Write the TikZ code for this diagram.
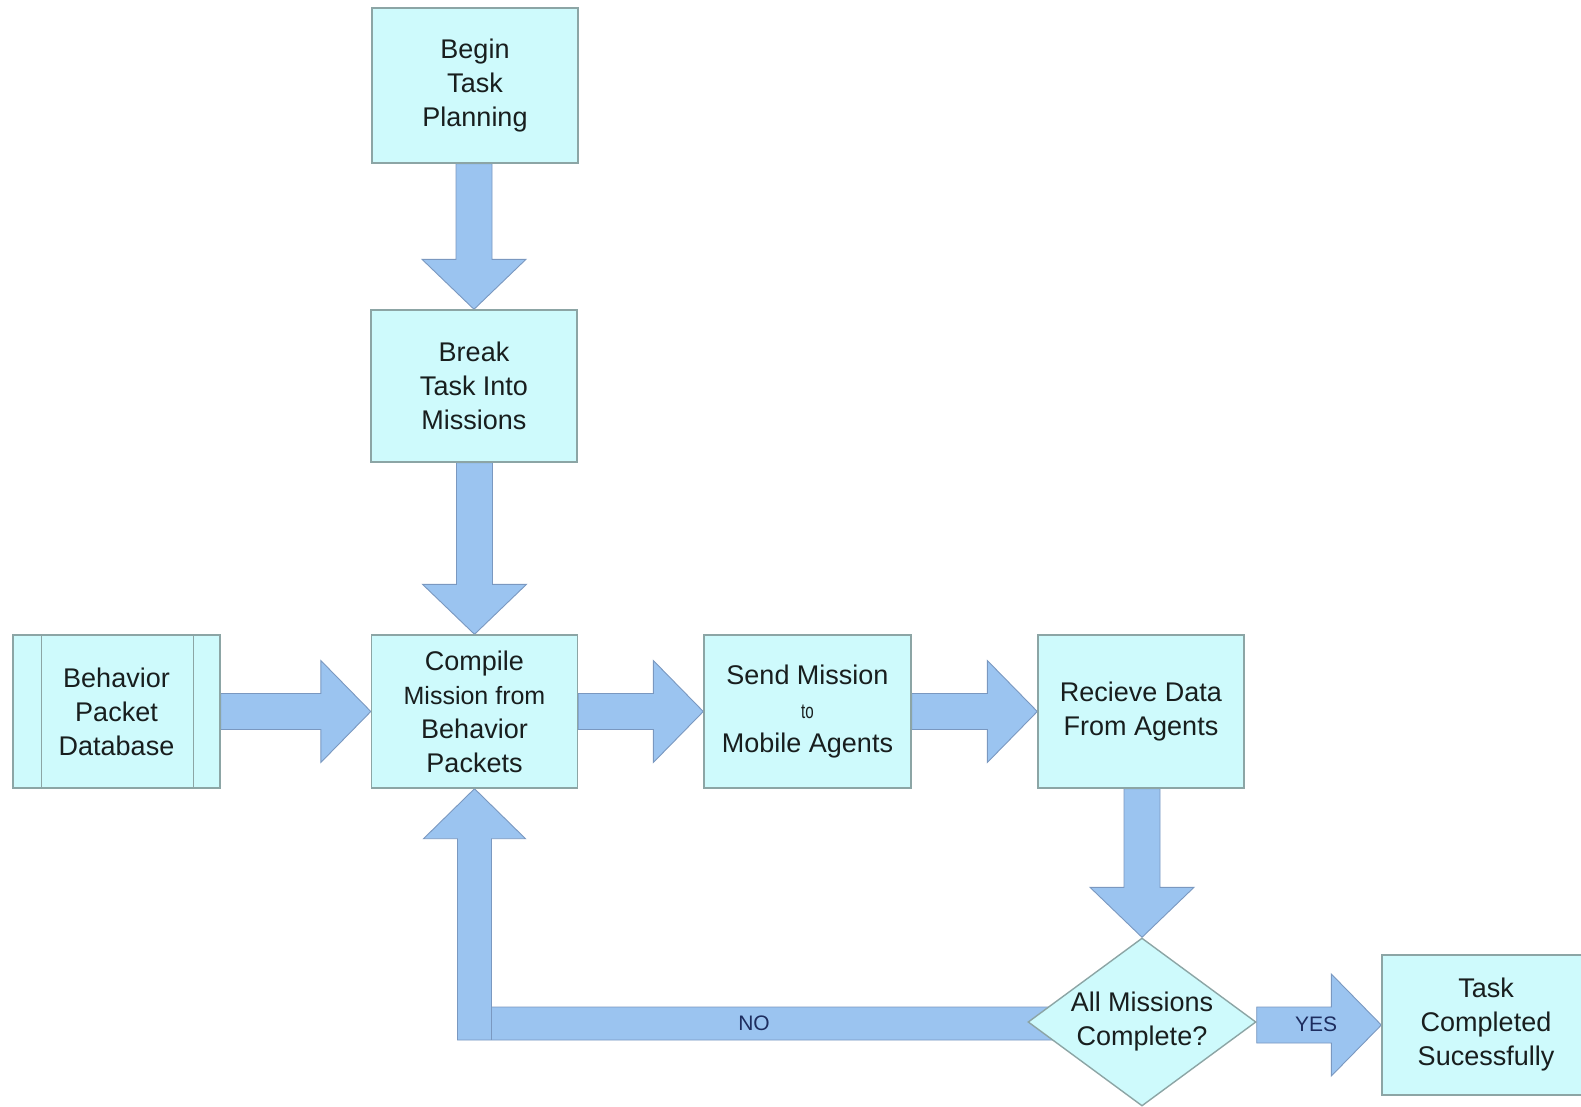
\documentclass[tikz,border=0pt]{standalone}
\usepackage{fontspec}
\setmainfont{Liberation Sans}
\usetikzlibrary{shapes.geometric,calc}
\pgfdeclarelayer{paper}
\pgfdeclarelayer{background}
\pgfsetlayers{paper,background,main}

\definecolor{boxfill}{RGB}{206,250,252}
\definecolor{boxline}{RGB}{140,165,165}
\definecolor{arrowfill}{RGB}{155,196,240}
\definecolor{arrowline}{RGB}{122,152,192}
\definecolor{textcol}{RGB}{24,30,30}
\definecolor{labelcol}{RGB}{30,45,95}

% block arrow pointing right, from one anchor to another
\newcommand\rightblock[2]{%
  \filldraw[blockarrow] let \p1=(#1), \p2=(#2) in
    (\x1,\y2+18pt) -- (\x2-50pt,\y2+18pt) -- (\x2-50pt,\y2+51pt) -- (\x2,\y2)
    -- (\x2-50pt,\y2-51pt) -- (\x2-50pt,\y2-18pt) -- (\x1,\y2-18pt) -- cycle;}
% block arrow pointing down
\newcommand\downblock[2]{%
  \filldraw[blockarrow] let \p1=(#1), \p2=(#2) in
    (\x2-18pt,\y1) -- (\x2-18pt,\y2+50pt) -- (\x2-52pt,\y2+50pt) -- (\x2,\y2)
    -- (\x2+52pt,\y2+50pt) -- (\x2+18pt,\y2+50pt) -- (\x2+18pt,\y1) -- cycle;}

\begin{document}
\begin{tikzpicture}[x=1pt,y=-1pt,
  procbox/.style={draw=boxline, fill=boxfill, line width=1.4pt,
    minimum width=206pt, minimum height=153pt, inner sep=0pt,
    align=center, text=textcol, font=\fontsize{27}{34}\selectfont},
  decision/.style={diamond, draw=boxline, fill=boxfill, line width=1.4pt,
    aspect=1.36, minimum width=228pt, minimum height=168pt, inner sep=0pt,
    align=center, text=textcol, font=\fontsize{27}{34}\selectfont},
  blockarrow/.style={fill=arrowfill, draw=arrowline, line width=0.9pt, line join=miter},
  seam/.style={draw=arrowline, line width=0.9pt},
  flowlabel/.style={text=labelcol, font=\fontsize{21}{24}\selectfont, inner sep=0pt}]
\useasboundingbox (0,0) rectangle (1581,1106);
\clip (0,0) rectangle (1581,1106);
\begin{pgfonlayer}{paper}
  \fill[white] (0,0) rectangle (1581,1106);
\end{pgfonlayer}

% process boxes
\node[procbox, minimum height=155pt] (begin) at (475,85.5) {Begin\\Task\\Planning};
\node[procbox, minimum height=152pt] (break) at (474,386) {Break\\Task Into\\Missions};
\node[procbox] (compile) at (474.5,711.5)
  {Compile\\{\fontsize{25}{34}\selectfont Mission from}\\Behavior\\Packets};
\node[procbox, minimum width=207pt] (beh) at (116.5,711.5) {Behavior\\Packet\\Database};
\draw[boxline, line width=1.4pt]
  ($(beh.north west)+(29,0)$) -- ($(beh.south west)+(29,0)$)
  ($(beh.north east)+(-27,0)$) -- ($(beh.south east)+(-27,0)$);
\node[procbox, minimum width=207pt] (send) at (807.5,711.5)
  {Send Mission\\{\fontsize{21}{34}\selectfont\scalebox{0.72}[1]{to}}\\Mobile Agents};
\node[procbox] (recv) at (1141,711.5) {Recieve Data\\From Agents};
\node[decision] (dec) at (1142,1022) {All Missions\\Complete?};
\node[procbox, minimum width=208pt, minimum height=140pt] (task) at (1486,1025)
  {Task\\Completed\\Sucessfully};

% block arrows between the steps
\begin{pgfonlayer}{background}
  \downblock{begin.south}{break.north}
  \downblock{break.south}{compile.north}
  \rightblock{beh.east}{compile.west}
  \rightblock{compile.east}{send.west}
  \rightblock{send.east}{recv.west}
  \downblock{recv.south}{dec.north}
  \rightblock{dec.east}{task.west}
  % loop back when missions remain
  \filldraw[blockarrow] let \p1=(compile.south), \p2=(dec.west) in
    (\x1,\y1) -- (\x1+51pt,\y1-50pt) -- (\x1+17pt,\y1-50pt) -- (\x1+17pt,\y2+15pt)
    -- (\x2+30pt,\y2+15pt) -- (\x2+30pt,\y2-18pt) -- (\x1-17pt,\y2-18pt)
    -- (\x1-17pt,\y1-50pt) -- (\x1-51pt,\y1-50pt) -- cycle;
  \draw[seam] let \p1=(compile.south), \p2=(dec.west) in
    (\x1+17pt,\y2+15pt) -- (\x1+17pt,\y2-18pt);
\end{pgfonlayer}

\node[flowlabel] (no) at (754,1023) {NO};
\node[flowlabel] (yes) at (1316,1024) {YES};
\end{tikzpicture}
\end{document}
